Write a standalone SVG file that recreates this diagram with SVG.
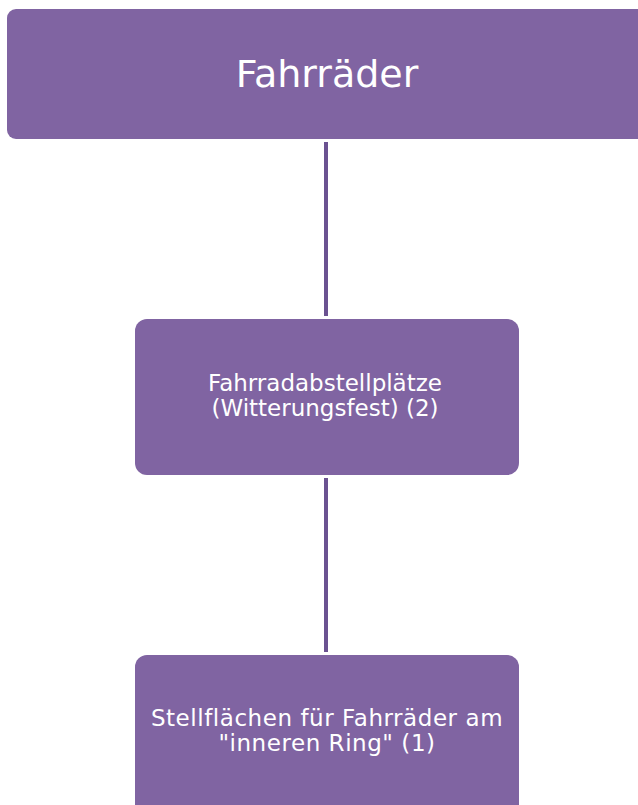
<svg xmlns="http://www.w3.org/2000/svg" width="638" height="805" viewBox="0 0 638 805">
<style>
.box{fill:#8064A2}
.lbl{fill:#ffffff;font-family:"DejaVu Sans","Verdana",sans-serif;text-anchor:middle}
.big{font-size:38px}
.mid{font-size:23px}
.bot{font-size:23px;letter-spacing:0.55px}
.con{stroke:#6B5291;stroke-width:4;fill:none}
</style>
<rect width="638" height="805" fill="#ffffff"/>
<g id="connectors">
<line class="con" x1="326" y1="142" x2="326" y2="316"/>
<line class="con" x1="326" y1="478" x2="326" y2="652"/>
</g>
<g id="node-fahrraeder">
<rect class="box" x="7" y="9" width="645" height="130" rx="9" ry="9"/>
<text class="lbl big" x="327" y="87">Fahrräder</text>
</g>
<g id="node-abstellplaetze">
<rect class="box" x="135" y="319" width="384" height="156" rx="12" ry="12"/>
<text class="lbl mid" x="325" y="391">Fahrradabstellplätze</text>
<text class="lbl mid" x="325" y="416">(Witterungsfest) (2)</text>
</g>
<g id="node-stellflaechen">
<rect class="box" x="135" y="655" width="384" height="165" rx="12" ry="12"/>
<text class="lbl bot" x="327" y="726">Stellflächen für Fahrräder am</text>
<text class="lbl bot" x="327" y="751">"inneren Ring" (1)</text>
</g>
</svg>
